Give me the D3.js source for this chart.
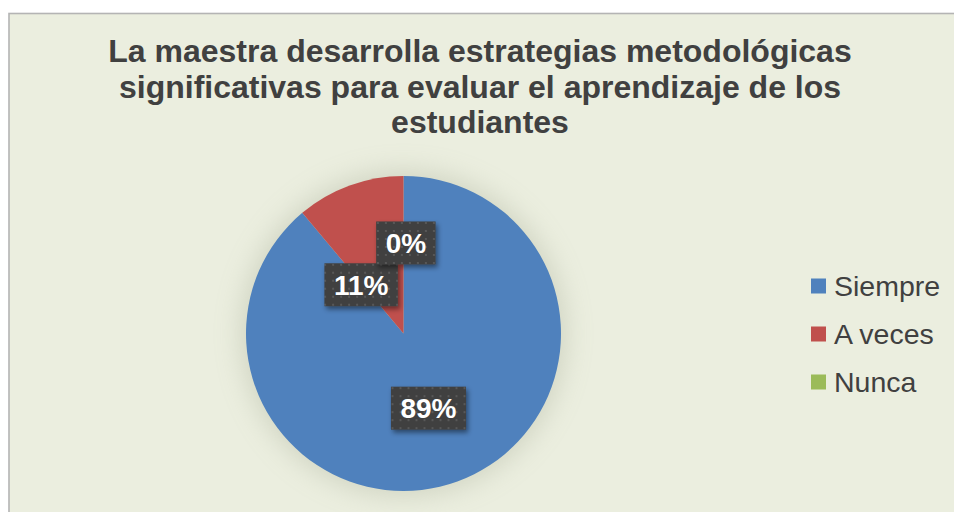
<!DOCTYPE html>
<html lang="es">
<head>
<meta charset="utf-8">
<title>Pie chart</title>
<style>
  html, body { margin: 0; padding: 0; background: #ffffff; }
  svg { display: block; font-family: "Liberation Sans", Arial, sans-serif; }
</style>
</head>
<body>
<div id="chart"></div>
<script src="https://cdn.jsdelivr.net/npm/d3@7/dist/d3.min.js"></script>
<script>
// data
var categories = ["Siempre", "A veces", "Nunca"];
var counts = [8, 1, 0];
var colors = ["#4F81BD", "#C0504D", "#9BBB59"];
var titleLines = [
  "La maestra desarrolla estrategias metodológicas",
  "significativas para evaluar el aprendizaje de los",
  "estudiantes"
];

var w = 954, h = 512;
var cx = 403.5, cy = 333.5, r = 157.5;

// label placement (radius fraction, extra angle in degrees) tuned to match Excel best fit
var labelPos = [
  {rad: 0.50, ang: 1.5},
  {rad: 0.41, ang: -21},
  {rad: 0.575, ang: 1.5}
];

var svg = d3.select("#chart").append("svg")
  .attr("width", w).attr("height", h);

var defs = svg.append("defs");

var pat = defs.append("pattern")
  .attr("id", "dots")
  .attr("patternUnits", "userSpaceOnUse")
  .attr("width", 8).attr("height", 8);
pat.append("rect").attr("width", 8).attr("height", 8).attr("fill", "#404040");
pat.append("rect").attr("x", 3).attr("y", 3).attr("width", 2).attr("height", 2).attr("fill", "#585858");

var sh = defs.append("filter").attr("id", "shadow")
  .attr("x", "-30%").attr("y", "-30%").attr("width", "160%").attr("height", "160%");
sh.append("feDropShadow").attr("dx", 2).attr("dy", 3).attr("stdDeviation", 2.5)
  .attr("flood-color", "#000").attr("flood-opacity", 0.45);

var glow = defs.append("filter").attr("id", "pieglow")
  .attr("x", "-40%").attr("y", "-40%").attr("width", "180%").attr("height", "180%");
glow.append("feGaussianBlur").attr("stdDeviation", 14);

// chart area
svg.append("rect")
  .attr("x", 9).attr("y", 13.5)
  .attr("width", w + 20).attr("height", h + 20)
  .attr("fill", "#EBEEDF")
  .attr("stroke", "#B4B4B4").attr("stroke-width", 1.6);

// title
var title = svg.append("text")
  .attr("text-anchor", "middle")
  .attr("font-size", 32).attr("font-weight", "bold")
  .attr("fill", "#404040");
titleLines.forEach(function(t, i) {
  title.append("tspan").attr("x", 480).attr("y", 62 + i * 35.5).text(t);
});

// pie
var pie = d3.pie().sort(null).value(function(d) { return d; });
var arcs = pie(counts);
var arc = d3.arc().innerRadius(0).outerRadius(r);

var g = svg.append("g").attr("transform", "translate(" + cx + "," + cy + ")");

g.append("circle").attr("r", r + 4).attr("fill", "#9aa088")
  .attr("opacity", 0.35).attr("filter", "url(#pieglow)");

g.selectAll("path.slice")
  .data(arcs)
  .enter().append("path")
  .attr("class", "slice")
  .attr("d", arc)
  .attr("fill", function(d, i) { return colors[i]; });

// data labels
var total = d3.sum(counts);
var fmt = function(v) { return Math.round(v / total * 100) + "%"; };

var labels = g.selectAll("g.lbl")
  .data(arcs)
  .enter().append("g")
  .attr("class", "lbl")
  .attr("transform", function(d, i) {
    var p = labelPos[i];
    var a = (d.startAngle + d.endAngle) / 2 + p.ang * Math.PI / 180;
    var rr = r * p.rad;
    return "translate(" + (rr * Math.sin(a)) + "," + (-rr * Math.cos(a)) + ")";
  });

labels.each(function(d) {
  var sel = d3.select(this);
  var box = sel.append("rect").attr("fill", "url(#dots)").attr("filter", "url(#shadow)");
  var txt = sel.append("text")
    .attr("text-anchor", "middle")
    .attr("dy", "0.35em")
    .attr("font-size", 28).attr("font-weight", "bold")
    .attr("fill", "#ffffff")
    .text(fmt(d.data));
  var tw = txt.node().getComputedTextLength();
  var bw = tw + 19, bh = 43;
  box.attr("x", -bw / 2).attr("y", -bh / 2).attr("width", bw).attr("height", bh);
});

// legend
var legend = svg.append("g").attr("transform", "translate(811,286)");
var items = legend.selectAll("g")
  .data(categories)
  .enter().append("g")
  .attr("transform", function(d, i) { return "translate(0," + (i * 48) + ")"; });
items.append("rect")
  .attr("x", 0).attr("y", -7.5).attr("width", 15).attr("height", 15)
  .attr("fill", function(d, i) { return colors[i]; });
items.append("text")
  .attr("x", 23).attr("dy", "0.35em")
  .attr("font-size", 28.5).attr("fill", "#404040")
  .text(function(d) { return d; });
</script>
</body>
</html>
